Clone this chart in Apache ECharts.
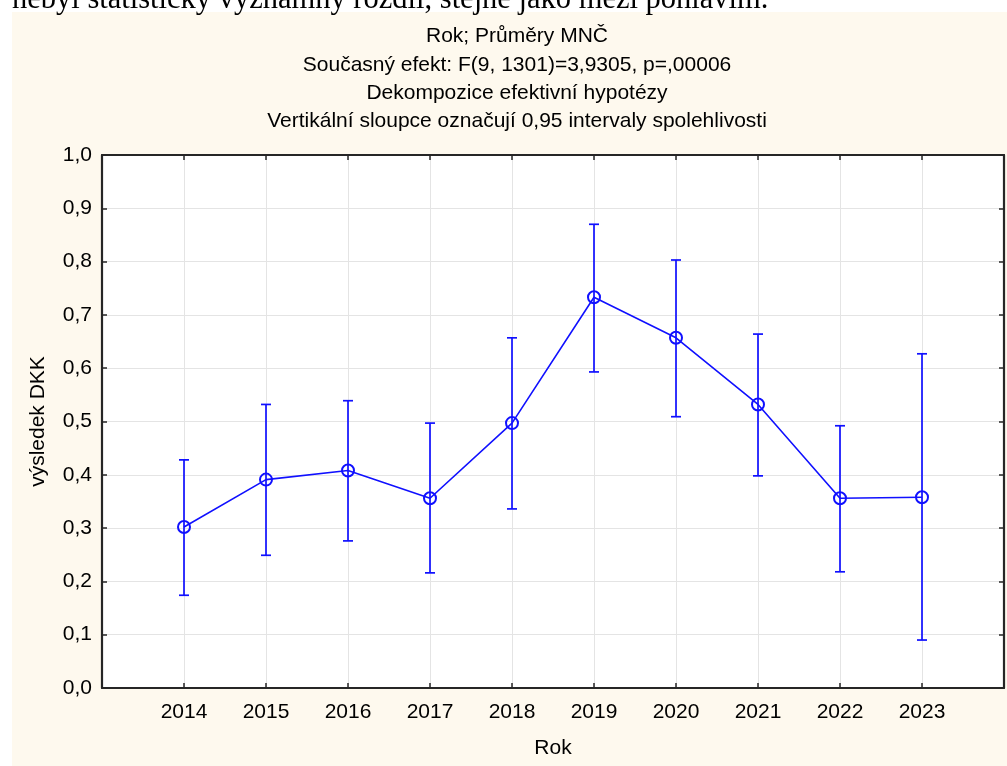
<!DOCTYPE html>
<html>
<head>
<meta charset="utf-8">
<script src="https://cdn.jsdelivr.net/npm/echarts@6/dist/echarts.min.js"></script>
<style>
html,body{margin:0;padding:0;background:#ffffff;}
#chart{width:1007px;height:766px;}
</style>
</head>
<body>
<div id="chart"></div>
<script>
// ---- data ----
const years = [2014, 2015, 2016, 2017, 2018, 2019, 2020, 2021, 2022, 2023];
const means = [0.302, 0.391, 0.408, 0.356, 0.497, 0.733, 0.657, 0.532, 0.356, 0.358];
const lower = [0.174, 0.249, 0.276, 0.216, 0.336, 0.593, 0.509, 0.398, 0.218, 0.090];
const upper = [0.428, 0.532, 0.539, 0.497, 0.657, 0.870, 0.803, 0.664, 0.492, 0.627];
const titleLines = [
  'Rok; Průměry MNČ',
  'Současný efekt: F(9, 1301)=3,9305, p=,00006',
  'Dekompozice efektivní hypotézy',
  'Vertikální sloupce označují 0,95 intervaly spolehlivosti'
];
const xName = 'Rok';
const yName = 'výsledek DKK';
const docText = 'nebyl statisticky významný rozdíl, stejně jako mezi pohlavím.';

const blue = '#1010ff';
const frame = '#262626';
const gridC = '#e4e4e4';
const font = 'Liberation Sans, Arial, sans-serif';

const chart = echarts.init(document.getElementById('chart'), null, {renderer: 'canvas'});

const lineData = years.map((y, i) => [y, means[i]]);
const errData = years.map((y, i) => [y, lower[i], upper[i]]);

const fmtY = v => v.toFixed(1).replace('.', ',');

const titleGraphics = titleLines.map((t, i) => ({
  type: 'text', silent: true, z: 10,
  x: 517, y: 36.5 + i * 28.3,
  style: {text: t, font: '21px "Liberation Sans", Arial, sans-serif', fill: '#000', align: 'center', verticalAlign: 'middle'}
}));

const option = {
  backgroundColor: 'transparent',
  animation: false,
  graphic: [
    {type: 'rect', silent: true, z: -10, shape: {x: 12, y: 12, width: 995, height: 754}, style: {fill: '#fef9ee'}},
    {type: 'text', silent: true, z: 10, left: 12, top: -16,
      style: {text: docText, font: '30.5px "Liberation Serif", "Times New Roman", serif', fill: '#000'}}
  ].concat(titleGraphics),
  grid: {left: 102, top: 155, right: 2, bottom: 78, show: true, backgroundColor: '#ffffff', borderWidth: 0},
  xAxis: [
    {
      type: 'value', position: 'bottom', min: 2013, max: 2024, interval: 1,
      name: xName, nameLocation: 'middle', nameGap: 50,
      nameTextStyle: {fontFamily: font, fontSize: 21, color: '#000'},
      axisLine: {show: true, onZero: false, lineStyle: {color: frame, width: 2.2}},
      axisTick: {show: true, inside: true, length: 5, lineStyle: {color: frame, width: 1.5}},
      axisLabel: {margin: 14, fontFamily: font, fontSize: 21, color: '#000',
        formatter: v => (v >= years[0] && v <= years[years.length - 1]) ? String(v) : ''},
      splitLine: {show: true, lineStyle: {color: gridC, width: 1}}
    },
    {
      type: 'value', position: 'top', min: 2013, max: 2024, interval: 1,
      axisLine: {show: true, onZero: false, lineStyle: {color: frame, width: 2.2}},
      axisTick: {show: true, inside: true, length: 5, lineStyle: {color: frame, width: 1.5}},
      axisLabel: {show: false},
      splitLine: {show: false}
    }
  ],
  yAxis: [
    {
      type: 'value', position: 'left', min: 0, max: 1, interval: 0.1,
      name: yName, nameLocation: 'middle', nameGap: 53, nameRotate: 90,
      nameTextStyle: {fontFamily: font, fontSize: 21, color: '#000'},
      axisLine: {show: true, onZero: false, lineStyle: {color: frame, width: 2.2}},
      axisTick: {show: true, inside: true, length: 5, lineStyle: {color: frame, width: 1.5}},
      axisLabel: {margin: 10, fontFamily: font, fontSize: 21, color: '#000', formatter: fmtY},
      splitLine: {show: true, lineStyle: {color: gridC, width: 1}}
    },
    {
      type: 'value', position: 'right', min: 0, max: 1, interval: 0.1,
      axisLine: {show: true, onZero: false, lineStyle: {color: frame, width: 2.2}},
      axisTick: {show: true, inside: true, length: 5, lineStyle: {color: frame, width: 1.5}},
      axisLabel: {show: false},
      splitLine: {show: false}
    }
  ],
  series: [
    {
      type: 'custom',
      xAxisIndex: 0, yAxisIndex: 0,
      data: errData,
      z: 3,
      renderItem: function (params, api) {
        const x = api.value(0);
        const lo = api.coord([x, api.value(1)]);
        const hi = api.coord([x, api.value(2)]);
        const hw = 5;
        const st = {stroke: blue, lineWidth: 1.7, fill: null};
        return {
          type: 'group',
          children: [
            {type: 'line', shape: {x1: lo[0], y1: lo[1], x2: hi[0], y2: hi[1]}, style: st},
            {type: 'line', shape: {x1: lo[0] - hw, y1: lo[1], x2: lo[0] + hw, y2: lo[1]}, style: st},
            {type: 'line', shape: {x1: hi[0] - hw, y1: hi[1], x2: hi[0] + hw, y2: hi[1]}, style: st}
          ]
        };
      }
    },
    {
      type: 'line',
      xAxisIndex: 0, yAxisIndex: 0,
      data: lineData,
      z: 4,
      symbol: 'circle',
      symbolSize: 12,
      showAllSymbol: true,
      lineStyle: {color: blue, width: 1.6},
      itemStyle: {color: 'rgba(0,0,0,0)', borderColor: blue, borderWidth: 2},
      emphasis: {disabled: true}
    }
  ]
};
chart.setOption(option);
</script>
</body>
</html>
